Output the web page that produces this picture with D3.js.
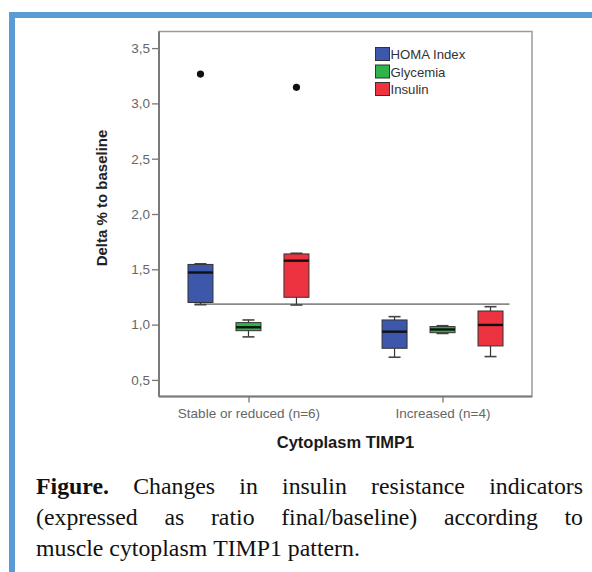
<!DOCTYPE html>
<html>
<head>
<meta charset="utf-8">
<script src="https://cdn.jsdelivr.net/npm/d3@7"></script>
<style>
  html, body { margin: 0; padding: 0; background: #fff; }
  svg { display: block; }
</style>
</head>
<body>
<svg id="chart" width="592" height="572"></svg>
<script>
// ---------- data ----------
const categories = ["Stable or reduced (n=6)", "Increased (n=4)"];
const seriesNames = ["HOMA Index", "Glycemia", "Insulin"];
const seriesColors = ["#3d57aa", "#2fb44b", "#ee3340"];
const homaIndex = [
  { min: 1.180, q1: 1.200, median: 1.471, q3: 1.544, max: 1.550 },
  { min: 0.705, q1: 0.786, median: 0.936, q3: 1.042, max: 1.072 }
];
const glycemia = [
  { min: 0.889, q1: 0.945, median: 0.976, q3: 1.018, max: 1.042 },
  { min: 0.920, q1: 0.927, median: 0.956, q3: 0.982, max: 0.990 }
];
const insulin = [
  { min: 1.177, q1: 1.247, median: 1.578, q3: 1.639, max: 1.645 },
  { min: 0.711, q1: 0.807, median: 0.997, q3: 1.123, max: 1.162 }
];
const outliers = [
  { category: 0, series: 0, value: 3.265 },
  { category: 0, series: 2, value: 3.145 }
];
const referenceLineValue = 1.185;
const yTicks = [0.5, 1.0, 1.5, 2.0, 2.5, 3.0, 3.5];
const yTitle = "Delta % to baseline";
const xTitle = "Cytoplasm TIMP1";
const captionLines = [
  [{ t: "Figure.", b: true }, "Changes", "in", "insulin", "resistance", "indicators"],
  ["(expressed", "as", "ratio", "final/baseline)", "according", "to"],
  ["muscle", "cytoplasm", "TIMP1", "pattern."]
];

// ---------- layout ----------
const svg = d3.select("#chart");
const sans = "'Liberation Sans', Arial, sans-serif";
const serif = "'Liberation Serif', 'Times New Roman', serif";
const plot = { left: 159, right: 532, top: 31.5, bottom: 396.5 };

svg.append("rect").attr("width", 592).attr("height", 572).attr("fill", "#fff");

// blue document frame
svg.append("rect").attr("x", 9).attr("y", 12).attr("width", 583).attr("height", 6).attr("fill", "#5b9bd5");
svg.append("rect").attr("x", 9).attr("y", 12).attr("width", 6).attr("height", 560).attr("fill", "#5b9bd5");

const x = d3.scalePoint().domain(categories).range([plot.left, plot.right]).padding(0.461);
const y = d3.scaleLinear().domain([0.35, 3.65]).range([plot.bottom, plot.top]);
const inner = d3.scaleBand().domain(seriesNames).range([-72, 72]).paddingInner(0.479).paddingOuter(0.24);
const bw = inner.bandwidth();
const capW = 12;

// plot frame (top/right lighter)
svg.append("rect")
  .attr("x", plot.left).attr("y", plot.top)
  .attr("width", plot.right - plot.left).attr("height", plot.bottom - plot.top)
  .attr("fill", "none").attr("stroke", "#9a9a9a").attr("stroke-width", 1.5);

// y axis
const yAxis = d3.axisLeft(y).tickValues(yTicks).tickSize(7).tickPadding(2)
  .tickFormat(d => d3.format(".1f")(d).replace(".", ","));
const gy = svg.append("g").attr("transform", `translate(${plot.left},0)`).call(yAxis);
gy.select(".domain").remove();
gy.selectAll(".tick line").attr("stroke", "#777").attr("stroke-width", 1.3);
gy.selectAll(".tick text").attr("fill", "#666").attr("font-family", sans).attr("font-size", 13.5);
svg.append("line").attr("x1", plot.left).attr("x2", plot.left).attr("y1", plot.top).attr("y2", plot.bottom)
  .attr("stroke", "#7a7a7a").attr("stroke-width", 2);

// x axis
const xAxis = d3.axisBottom(x).tickSize(6).tickPadding(6);
const gx = svg.append("g").attr("transform", `translate(0,${plot.bottom})`).call(xAxis);
gx.select(".domain").remove();
gx.selectAll(".tick line").attr("stroke", "#777").attr("stroke-width", 1.3);
gx.selectAll(".tick text").attr("fill", "#666").attr("font-family", sans).attr("font-size", 13.5);
svg.append("line").attr("x1", plot.left).attr("x2", plot.right).attr("y1", plot.bottom).attr("y2", plot.bottom)
  .attr("stroke", "#7a7a7a").attr("stroke-width", 2);

// axis titles
svg.append("text")
  .attr("transform", `translate(107,198) rotate(-90)`)
  .attr("text-anchor", "middle").attr("font-family", sans).attr("font-weight", "bold")
  .attr("font-size", 15).attr("fill", "#222").text(yTitle);
svg.append("text")
  .attr("x", (plot.left + plot.right) / 2).attr("y", 447.5)
  .attr("text-anchor", "middle").attr("font-family", sans).attr("font-weight", "bold")
  .attr("font-size", 16.5).attr("fill", "#1a1a1a").text(xTitle);

// reference line (as drawn in original)
svg.append("line")
  .attr("x1", x(categories[0]) + inner(seriesNames[0]) + bw / 2 - capW / 2)
  .attr("x2", x(categories[1]) + inner(seriesNames[2]) + bw / 2 + 19)
  .attr("y1", y(referenceLineValue)).attr("y2", y(referenceLineValue))
  .attr("stroke", "#8a8a8a").attr("stroke-width", 1.6);

// boxes
const allSeries = [homaIndex, glycemia, insulin];
allSeries.forEach((vals, si) => {
  vals.forEach((d, ci) => {
    const cx = x(categories[ci]) + inner(seriesNames[si]) + bw / 2;
    const g = svg.append("g");
    g.append("line").attr("x1", cx).attr("x2", cx).attr("y1", y(d.max)).attr("y2", y(d.q3))
      .attr("stroke", "#333").attr("stroke-width", 1.2);
    g.append("line").attr("x1", cx).attr("x2", cx).attr("y1", y(d.q1)).attr("y2", y(d.min))
      .attr("stroke", "#333").attr("stroke-width", 1.2);
    g.append("line").attr("x1", cx - capW / 2).attr("x2", cx + capW / 2).attr("y1", y(d.max)).attr("y2", y(d.max))
      .attr("stroke", "#444").attr("stroke-width", 1.6);
    g.append("line").attr("x1", cx - capW / 2).attr("x2", cx + capW / 2).attr("y1", y(d.min)).attr("y2", y(d.min))
      .attr("stroke", "#444").attr("stroke-width", 1.6);
    g.append("rect").attr("x", cx - bw / 2).attr("y", y(d.q3))
      .attr("width", bw).attr("height", y(d.q1) - y(d.q3))
      .attr("fill", seriesColors[si]).attr("stroke", "#333").attr("stroke-width", 1);
    g.append("line").attr("x1", cx - bw / 2).attr("x2", cx + bw / 2).attr("y1", y(d.median)).attr("y2", y(d.median))
      .attr("stroke", "#111").attr("stroke-width", 2.4);
  });
});

// outliers
svg.selectAll("circle.out").data(outliers).enter().append("circle")
  .attr("class", "out")
  .attr("cx", d => x(categories[d.category]) + inner(seriesNames[d.series]) + bw / 2)
  .attr("cy", d => y(d.value))
  .attr("r", 3.6).attr("fill", "#111");

// legend
const lg = svg.append("g").attr("transform", "translate(375,47)");
seriesNames.forEach((name, i) => {
  const gi = lg.append("g").attr("transform", `translate(0,${i * 17.5})`);
  gi.append("rect").attr("x", 0.5).attr("y", 0.5).attr("width", 14).attr("height", 13)
    .attr("fill", seriesColors[i]).attr("stroke", "#333").attr("stroke-width", 1);
  gi.append("text").attr("x", 15.5).attr("y", 12).attr("font-family", sans).attr("font-size", 13.2)
    .attr("fill", "#333").text(name);
});

// caption (justified)
const capLeft = 36, capRight = 583, capSize = 23.8;
const baselines = [494, 525, 556];
captionLines.forEach((words, li) => {
  const items = words.map(w => typeof w === "string" ? { t: w, b: false } : w);
  const nodes = items.map(it => svg.append("text")
    .attr("y", baselines[li]).attr("font-family", serif).attr("font-size", capSize)
    .attr("font-weight", it.b ? "bold" : "normal").attr("fill", "#111").text(it.t));
  const widths = nodes.map(n => n.node().getComputedTextLength());
  const total = d3.sum(widths);
  const justify = li < captionLines.length - 1;
  const gap = justify ? (capRight - capLeft - total) / (items.length - 1) : capSize * 0.25;
  let cx = capLeft;
  nodes.forEach((n, i) => { n.attr("x", cx); cx += widths[i] + gap; });
});
</script>
</body>
</html>
